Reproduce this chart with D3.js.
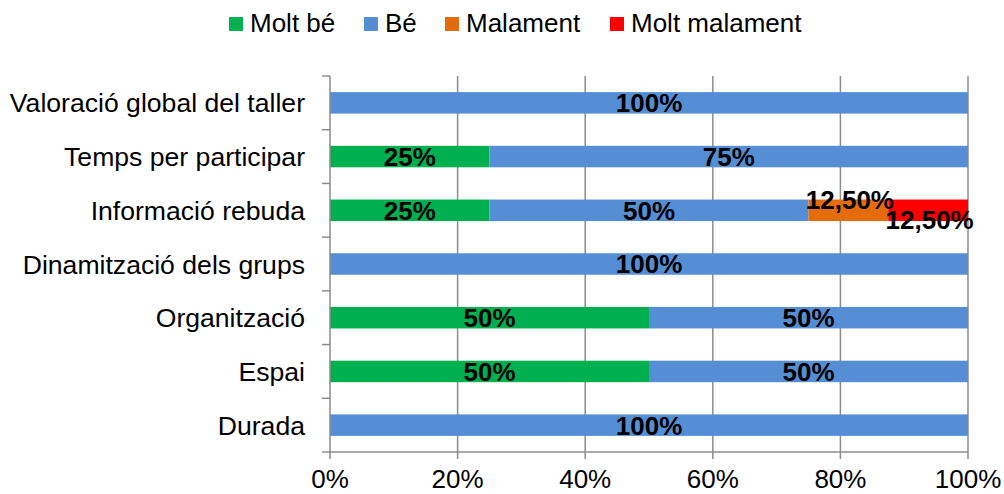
<!DOCTYPE html>
<html>
<head>
<meta charset="utf-8">
<script src="https://cdn.jsdelivr.net/npm/d3@7"></script>
<style>
  body { margin: 0; background: #fff; }
  svg { font-family: "Liberation Sans", Arial, sans-serif; }
</style>
</head>
<body>
<svg id="chart" width="1004" height="494"></svg>
<script>
// categories (top to bottom) and series values in percent
const categories = ['Valoració global del taller', 'Temps per participar', 'Informació rebuda',
  'Dinamització dels grups', 'Organització', 'Espai', 'Durada'];
const seriesNames = ['Molt bé', 'Bé', 'Malament', 'Molt malament'];
const moltBe = [0, 25, 25, 0, 50, 50, 0];
const be = [100, 75, 50, 100, 50, 50, 100];
const malament = [0, 0, 12.5, 0, 0, 0, 0];
const moltMalament = [0, 0, 12.5, 0, 0, 0, 0];
const xTicks = [0, 20, 40, 60, 80, 100];
const colors = ['#00B050', '#558ED5', '#E46C0A', '#FF0000'];

const svg = d3.select('#chart');
const margin = {top: 76, right: 36, bottom: 42, left: 330};
const width = 1004 - margin.left - margin.right;
const height = 494 - margin.top - margin.bottom;
const axisColor = '#8c8c8c';

const rows = categories.map((c, i) => ({
  cat: c, 'Molt bé': moltBe[i], 'Bé': be[i], 'Malament': malament[i], 'Molt malament': moltMalament[i]
}));
const stacked = d3.stack().keys(seriesNames)(rows);

const x = d3.scaleLinear().domain([0, 100]).range([0, width]);
const y = d3.scaleBand().domain(categories).range([0, height]).paddingInner(0.6).paddingOuter(0.3);
const yOuter = d3.scaleBand().domain(categories).range([0, height]);

const g = svg.append('g').attr('transform', `translate(${margin.left},${margin.top})`);

// vertical gridlines
g.selectAll('.grid').data(xTicks.slice(1)).enter().append('line')
  .attr('x1', d => x(d)).attr('x2', d => x(d))
  .attr('y1', 0).attr('y2', height)
  .attr('stroke', axisColor).attr('stroke-width', 1.5);

// bars
stacked.forEach((s, si) => {
  g.selectAll(`.bar${si}`).data(s.filter(d => d[1] > d[0])).enter().append('rect')
    .attr('x', d => x(d[0]))
    .attr('y', d => y(d.data.cat))
    .attr('width', d => x(d[1]) - x(d[0]))
    .attr('height', y.bandwidth())
    .attr('fill', colors[si]);
});

// x axis
g.append('line').attr('x1', -8).attr('x2', width).attr('y1', height).attr('y2', height)
  .attr('stroke', axisColor).attr('stroke-width', 1.5);
g.selectAll('.xtick').data(xTicks).enter().append('line')
  .attr('x1', d => x(d)).attr('x2', d => x(d))
  .attr('y1', height).attr('y2', height + 7)
  .attr('stroke', axisColor).attr('stroke-width', 1.5);
g.selectAll('.xlab').data(xTicks).enter().append('text')
  .attr('x', d => x(d)).attr('y', height + 36)
  .attr('text-anchor', 'middle')
  .attr('font-size', 26).attr('fill', '#000')
  .text(d => d + '%');

// y axis
g.append('line').attr('x1', 0).attr('x2', 0).attr('y1', 0).attr('y2', height)
  .attr('stroke', axisColor).attr('stroke-width', 1.5);
const bounds = categories.map(c => yOuter(c));
g.selectAll('.ytick').data(bounds).enter().append('line')
  .attr('x1', -8).attr('x2', 0)
  .attr('y1', d => d).attr('y2', d => d)
  .attr('stroke', axisColor).attr('stroke-width', 1.5);
g.selectAll('.ylab').data(categories).enter().append('text')
  .attr('x', -25)
  .attr('y', d => yOuter(d) + yOuter.bandwidth() / 2)
  .attr('dy', '0.36em')
  .attr('text-anchor', 'end')
  .attr('font-size', 26.6).attr('fill', '#000')
  .text(d => d);

// data labels (the two small slices are nudged up/down like the original)
const fmt = v => (Number.isInteger(v) ? v : v.toFixed(2).replace('.', ',')) + '%';
const nudge = [0, 0, -11, 9];
stacked.forEach((s, si) => {
  g.selectAll(`.lab${si}`).data(s.filter(d => d[1] > d[0])).enter().append('text')
    .attr('x', d => x((d[0] + d[1]) / 2) + (si >= 2 ? 1.5 : 0))
    .attr('y', d => y(d.data.cat) + y.bandwidth() / 2 + nudge[si])
    .attr('dy', '0.36em')
    .attr('text-anchor', 'middle')
    .attr('font-size', 26).attr('font-weight', 'bold').attr('fill', '#000')
    .text(d => fmt(d[1] - d[0]));
});

// legend
const legendX = [229, 364, 445, 610];
const legend = svg.selectAll('.legend').data(seriesNames).enter().append('g')
  .attr('transform', (d, i) => `translate(${legendX[i]},0)`);
legend.append('rect').attr('x', 0).attr('y', 17).attr('width', 14).attr('height', 14)
  .attr('fill', (d, i) => colors[i]);
legend.append('text').attr('x', 21).attr('y', 32)
  .attr('font-size', 26).attr('fill', '#000')
  .text(d => d);
</script>
</body>
</html>
